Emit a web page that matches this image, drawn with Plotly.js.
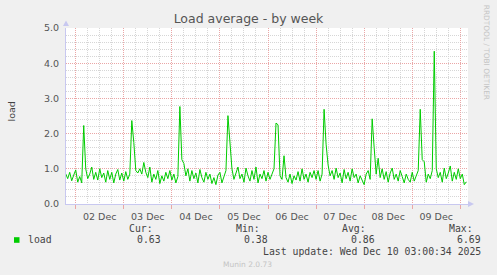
<!DOCTYPE html>
<html>
<head>
<meta charset="utf-8">
<script src="https://cdn.plot.ly/plotly-3.0.1.min.js"></script>
<style>
  html, body { margin: 0; padding: 0; background: #f0f0f0; }
  #chart { width: 497px; height: 275px; }
</style>
</head>
<body>
<div id="chart"></div>
<script>
// ---- Data (hourly load average) ----
const seriesStart = '2025-12-01T19:00:00Z';   // first sample
const stepHours = 1;
const dec01 = [0.86, 0.72, 0.90, 0.66, 0.82];
const dec02 = [0.97, 0.62, 0.78, 0.60, 2.23, 1.00, 0.72, 0.85, 1.05, 0.70, 0.90, 0.68,
               1.00, 0.75, 0.88, 0.62, 0.95, 0.70, 0.90, 0.60, 0.85, 0.98, 0.68, 0.88];
const dec03 = [0.65, 0.92, 0.70, 0.85, 2.37, 1.75, 0.95, 0.88, 1.00, 0.85, 1.18, 0.90,
               0.75, 1.05, 0.62, 0.85, 0.70, 0.95, 0.58, 0.80, 0.65, 0.90, 0.72, 0.95];
const dec04 = [0.68, 0.85, 0.60, 0.78, 2.77, 1.26, 1.15, 0.80, 1.00, 0.65, 0.95, 0.72,
               0.88, 0.60, 0.98, 0.75, 0.62, 0.90, 0.70, 0.85, 0.58, 0.75, 0.55, 0.82];
const dec05 = [0.90, 0.60, 0.75, 0.95, 2.51, 1.64, 1.00, 0.70, 0.90, 1.05, 0.72, 0.85,
               0.62, 1.02, 0.80, 0.65, 0.95, 0.70, 1.05, 0.60, 0.85, 0.72, 0.95, 0.65];
const dec06 = [0.90, 0.70, 0.85, 1.00, 2.30, 2.25, 0.80, 0.70, 1.37, 0.75, 0.62, 0.85,
               0.58, 0.80, 0.68, 0.92, 0.65, 1.00, 0.70, 0.85, 0.62, 0.90, 0.75, 0.95];
const dec07 = [0.70, 0.95, 0.65, 0.85, 2.69, 1.70, 1.11, 0.80, 0.95, 0.70, 1.02, 0.75,
               0.88, 0.60, 0.98, 0.72, 0.90, 0.65, 1.00, 0.75, 0.85, 0.60, 0.80, 0.68];
const dec08 = [0.55, 0.85, 0.95, 0.70, 2.42, 1.60, 0.85, 1.30, 0.75, 1.00, 0.70, 0.92,
               0.62, 0.88, 1.02, 0.70, 0.85, 0.65, 0.95, 0.78, 0.60, 0.85, 0.70, 0.62];
const dec09 = [0.90, 0.65, 0.80, 0.95, 2.69, 1.26, 1.20, 0.62, 0.85, 0.72, 0.95, 4.34,
               1.00, 0.75, 0.90, 0.62, 1.02, 0.72, 0.88, 1.08, 0.65, 0.90, 0.70, 1.00];
const dec10 = [0.72, 0.85, 0.55, 0.63];
const load = [].concat(dec01, dec02, dec03, dec04, dec05, dec06, dec07, dec08, dec09, dec10);

const yTickVals = [0, 1, 2, 3, 4, 5];
const legendHeads = ['Cur:', 'Min:', 'Avg:', 'Max:'];
const legendValues = ['0.63', '0.38', '0.86', '6.69'];
const seriesName = 'load';
const lastUpdate = 'Last update: Wed Dec 10 03:00:34 2025';
const chartTitle = 'Load average - by week';
const sideText = 'RRDTOOL / TOBI OETIKER';
const footer = 'Munin 2.0.73';

// time stamps for the x scale
function pad(n) { return (n < 10 ? '0' : '') + n; }
const t0 = Date.parse(seriesStart);
const times = load.map((_, i) => {
  const d = new Date(t0 + i * stepHours * 3600000);
  return d.getUTCFullYear() + '-' + pad(d.getUTCMonth() + 1) + '-' + pad(d.getUTCDate()) +
         ' ' + pad(d.getUTCHours()) + ':' + pad(d.getUTCMinutes());
});

// ---- layout helpers (pixel -> paper) ----
const W = 497, H = 275;
const M = { l: 66, r: 29, t: 28, b: 71 };
const PW = W - M.l - M.r, PH = H - M.t - M.b;
const px = x => (x - M.l) / PW;
const py = y => (H - M.b - y) / PH;

const mono = { family: 'DejaVu Sans Mono, monospace', size: 9.8, color: '#444' };
const RED = '#eaa6a6';
const GRAY = '#d6d6d6';
const AXIS = '#c8c8f0';

const ann = [];
ann.push({ text: sideText, x: px(486.7), y: py(52.5), xref: 'paper', yref: 'paper',
  showarrow: false, textangle: 90, xanchor: 'center', yanchor: 'middle',
  font: { family: 'DejaVu Sans', size: 7.4, color: '#c4c4c4' } });
ann.push({ text: 'load', x: px(10.5), y: py(111), xref: 'paper', yref: 'paper',
  showarrow: false, textangle: -90, xanchor: 'center', yanchor: 'middle',
  font: { family: 'DejaVu Sans', size: 9.5, color: '#444' } });
ann.push({ text: seriesName, x: px(25.5), y: py(239.5), xref: 'paper', yref: 'paper',
  showarrow: false, xanchor: 'left', yanchor: 'middle', font: mono });
const headX = [127, 233.5, 339.5, 446.5];
const valX = [163, 270, 376.5, 483];
legendHeads.forEach((h, i) => {
  ann.push({ text: h, x: px(headX[i]), y: py(228.3), xref: 'paper', yref: 'paper',
    showarrow: false, xanchor: 'left', yanchor: 'middle', font: mono });
  ann.push({ text: legendValues[i], x: px(valX[i]), y: py(239.5), xref: 'paper', yref: 'paper',
    showarrow: false, xanchor: 'right', yanchor: 'middle', font: mono });
});
ann.push({ text: lastUpdate, x: px(483), y: py(251.5), xref: 'paper', yref: 'paper',
  showarrow: false, xanchor: 'right', yanchor: 'middle', font: mono });
ann.push({ text: footer, x: px(247.7), y: py(264), xref: 'paper', yref: 'paper',
  showarrow: false, xanchor: 'center', yanchor: 'middle',
  font: { family: 'DejaVu Sans', size: 7.5, color: '#c4c4c4' } });

const shapes = [
  // legend colour box
  { type: 'rect', xref: 'paper', yref: 'paper', x0: px(14), x1: px(19.5), y0: py(242.8), y1: py(237.2),
    fillcolor: '#00cc00', line: { width: 0 } },
  // arrow on top of y axis
  { type: 'path', xref: 'paper', yref: 'paper', xsizemode: 'pixel', ysizemode: 'pixel',
    xanchor: 0, yanchor: 1, path: 'M -3 2 L 3 2 L 0 7.5 Z', fillcolor: AXIS, line: { width: 0 } },
  // arrow at right of x axis
  { type: 'path', xref: 'paper', yref: 'paper', xsizemode: 'pixel', ysizemode: 'pixel',
    xanchor: 1, yanchor: 0, path: 'M 0 -3 L 0 3 L 6 0 Z', fillcolor: AXIS, line: { width: 0 } }
];

const trace = {
  type: 'scatter', mode: 'lines', x: times, y: load, name: seriesName,
  line: { color: '#00cc00', width: 1 }, hoverinfo: 'x+y'
};

const layout = {
  width: W, height: H,
  margin: M,
  paper_bgcolor: '#f0f0f0', plot_bgcolor: '#ffffff',
  showlegend: false,
  title: { text: chartTitle, x: 0.5, xanchor: 'center', xref: 'container',
    y: 1 - 19 / H, yref: 'container', yanchor: 'middle',
    font: { family: 'DejaVu Sans', size: 12.5, color: '#555' } },
  xaxis: {
    type: 'date',
    range: ['2025-12-01 19:09', '2025-12-10 03:51'],
    tick0: '2025-12-01', dtick: 86400000,
    tickformat: '%d %b', ticklabelmode: 'period',
    ticks: 'outside', ticklen: 4, tickcolor: RED, tickwidth: 1,
    showgrid: true, gridcolor: RED, griddash: '1px,1px', gridwidth: 1,
    minor: { dtick: 6 * 3600000, showgrid: true, gridcolor: GRAY, griddash: '1px,1px', ticks: '' },
    showline: true, linecolor: AXIS, linewidth: 1, zeroline: false,
    tickfont: { family: 'DejaVu Sans', size: 9.5, color: '#555' },
    fixedrange: true
  },
  yaxis: {
    range: [0, 5], tickvals: yTickVals, tickformat: '.1f',
    ticks: '', ticklabelstandoff: 4,
    showgrid: true, gridcolor: RED, griddash: '1px,1px', gridwidth: 1,
    minor: { dtick: 0.2, showgrid: true, gridcolor: GRAY, griddash: '1px,1px', ticks: '' },
    showline: true, linecolor: AXIS, linewidth: 1, zeroline: false,
    tickfont: { family: 'DejaVu Sans', size: 9.5, color: '#555' },
    fixedrange: true
  },
  annotations: ann,
  shapes: shapes
};

Plotly.newPlot('chart', [trace], layout, { staticPlot: true, displayModeBar: false });
</script>
</body>
</html>
